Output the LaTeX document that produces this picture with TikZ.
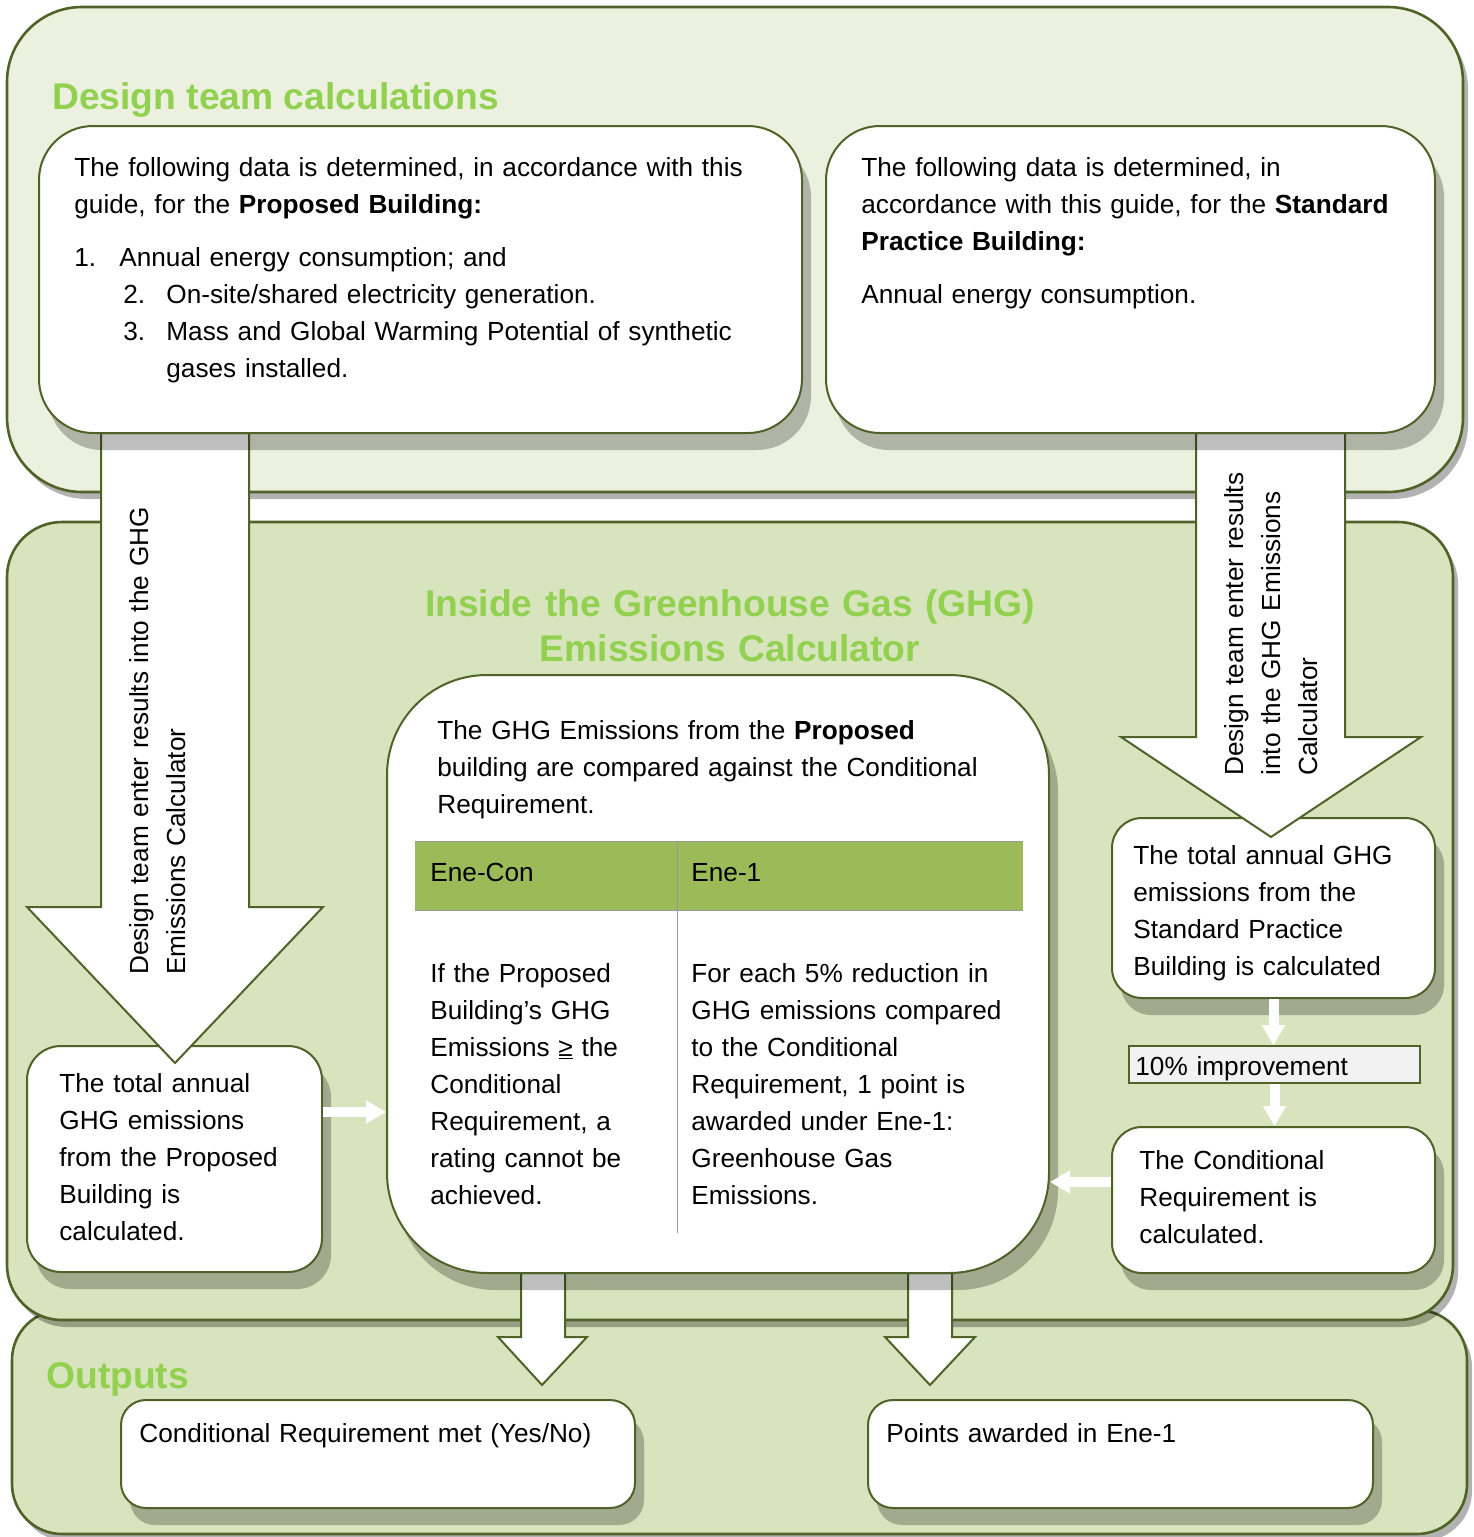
\documentclass[tikz,border=0pt]{standalone}
\usepackage{fontspec}
\setmainfont{Liberation Sans}
\usetikzlibrary{positioning, fit, shadows, arrows.meta}

\definecolor{olivedk}{HTML}{4F6228}
\definecolor{panellight}{HTML}{EBF1DE}
\definecolor{panelmid}{HTML}{D7E4BD}
\definecolor{titlegreen}{HTML}{92D050}
\definecolor{tablehead}{HTML}{9BBB59}
\definecolor{improvefill}{HTML}{F2F2F2}

\tikzset{
  panel/.style={draw=olivedk, line width=1.3pt, inner sep=0pt, rounded corners=#1,
    drop shadow={shadow xshift=2.5pt, shadow yshift=-3.5pt, fill=black, opacity=0.3}},
  textbox/.style={draw=olivedk, fill=white, line width=1pt, inner sep=0pt, rounded corners=#1,
    drop shadow={shadow xshift=4.5pt, shadow yshift=-8.5pt, fill=black, opacity=0.25}},
  bigarrow/.style={draw=olivedk, fill=white, line width=1pt, line join=miter},
  smallarrow/.style={white, line width=5pt, -{Triangle[length=10pt, width=11pt]}},
  txt/.style={anchor=base west, inner sep=0pt, align=left, text width=#1,
    font=\fontsize{13.1}{18.5}\selectfont},
  paneltitle/.style={anchor=base west, inner sep=0pt, text=titlegreen,
    font=\fontsize{18.6}{22.5}\selectfont\bfseries},
  tablerule/.style={draw=black!40, line width=0.4pt}
}

\begin{document}
\begin{tikzpicture}[x=0.5pt, y=-0.5pt]
\useasboundingbox (0,0) rectangle (1473,1537);

% panels
\node[panel=25pt, fill=panelmid, fit={(12,1310) (1467,1534)}] (outpanel) {};
\node[panel=27.5pt, fill=panelmid, fit={(7,522) (1453,1320)}] (calcpanel) {};
\node[panel=37.5pt, fill=panellight, fit={(7,7) (1463,492)}] (designpanel) {};

\node[paneltitle] (designtitle) at (52,109) {Design team calculations};
\node[paneltitle, anchor=base, align=center, text width=330pt] (calctitle) at (730,616)
  {Inside the Greenhouse Gas (GHG)\\Emissions Calculator};
\node[paneltitle] (outtitle) at (46,1388) {Outputs};

% outputs
\node[textbox=12.5pt, fit={(121,1400) (635,1508)}] (condmet) {};
\node[textbox=12.5pt, fit={(868,1400) (1373,1508)}] (pointsbox) {};
\node[txt=240pt] at (139,1442) {Conditional Requirement met (Yes/No)};
\node[txt=240pt] at (886,1442) {Points awarded in Ene-1};

% lower boxes
\node[textbox=17pt, fit={(27,1046) (322,1272)}] (propcalc) {};
\node[textbox=15pt, fit={(1112,818) (1435,998)}] (stdcalc) {};
\node[draw=olivedk, fill=improvefill, line width=0.8pt, inner sep=0pt,
  fit={(1129,1046) (1420,1083)}] (improve) {};
\node[textbox=15pt, fit={(1112,1127) (1435,1273)}] (condcalc) {};

\node[txt=140pt] at (59,1092) {The total annual\\GHG emissions\\from the Proposed\\Building is\\calculated.};
\node[txt=150pt] at (1133,864) {The total annual GHG\\emissions from the\\Standard Practice\\Building is calculated};
\node[txt=140pt] at (1135,1075) {10\% improvement};
\node[txt=140pt] at (1139,1169) {The Conditional\\Requirement is\\calculated.};

% block arrows
\draw[bigarrow] (101,433) -- (101,907) -- (27,907) -- (175,1063) -- (323,907) -- (249,907) -- (249,433) -- cycle;
\draw[bigarrow] (1196,433) -- (1196,737) -- (1121,737) -- (1271,837) -- (1421,737) -- (1345,737) -- (1345,433) -- cycle;
\draw[bigarrow] (521,1273) -- (521,1337) -- (498,1337) -- (542,1385) -- (587,1337) -- (565,1337) -- (565,1273) -- cycle;
\draw[bigarrow] (908,1273) -- (908,1337) -- (885,1337) -- (930,1385) -- (975,1337) -- (952,1337) -- (952,1273) -- cycle;

\node[txt=300pt, rotate=90] at (148,975) {Design team enter results into the GHG\\Emissions Calculator};
\node[txt=200pt, rotate=90] at (1243,776) {Design team enter results\\into the GHG Emissions\\Calculator};

% centre and top boxes
\node[textbox=50pt, fit={(387,675) (1049,1273)}] (compare) {};
\node[textbox=27pt, fit={(39,126) (802,433)}] (propdata) {};
\node[textbox=27pt, fit={(826,126) (1435,433)}] (stddata) {};

\node[txt=380pt] at (74,176) {The following data is determined, in accordance with this\\
  guide, for the \textbf{Proposed Building:}};
\node[txt=380pt] at (74,266) {\makebox[22.5pt][l]{1.}Annual energy consumption; and\\
  \hspace*{24.5pt}\makebox[21.5pt][l]{2.}On-site/shared electricity generation.\\
  \hspace*{24.5pt}\makebox[21.5pt][l]{3.}Mass and Global Warming Potential of synthetic\\
  \hspace*{46pt}gases installed.};
\node[txt=290pt] at (861,176) {The following data is determined, in\\
  accordance with this guide, for the \textbf{Standard}\\\textbf{Practice Building:}};
\node[txt=290pt] at (861,303) {Annual energy consumption.};

% comparison table
\node[txt=300pt] at (437,739) {The GHG Emissions from the \textbf{Proposed}\\
  building are compared against the Conditional\\Requirement.};
\node[fill=tablehead, inner sep=0pt, fit={(415,842) (1023,910)}] (tablehead) {};
\draw[tablerule] (tablehead.north west) -- (tablehead.north east);
\draw[tablerule] (tablehead.south west) -- (tablehead.south east);
\draw[tablerule] (677,842) -- (677,1233);
\node[txt=120pt] at (430,881) {Ene-Con};
\node[txt=150pt] at (691,881) {Ene-1};
\node[txt=120pt] at (430,982) {If the Proposed\\Building’s GHG\\Emissions \underline{≥} the\\Conditional\\
  Requirement, a\\rating cannot be\\achieved.};
\node[txt=170pt] at (691,982) {For each 5\% reduction in\\GHG emissions compared\\to the Conditional\\
  Requirement, 1 point is\\awarded under Ene-1:\\Greenhouse Gas\\Emissions.};

% small arrows
\draw[smallarrow] (stdcalc.south) -- (stdcalc.south |- improve.north);
\draw[smallarrow] (improve.south) -- (improve.south |- condcalc.north);
\coordinate (leftin) at ([yshift=23.5pt]propcalc.east);
\draw[smallarrow] (leftin) -- (leftin -| compare.west);
\coordinate (rightin) at ([yshift=9pt]condcalc.west);
\draw[smallarrow] (rightin) -- (rightin -| compare.east);
\end{tikzpicture}
\end{document}
